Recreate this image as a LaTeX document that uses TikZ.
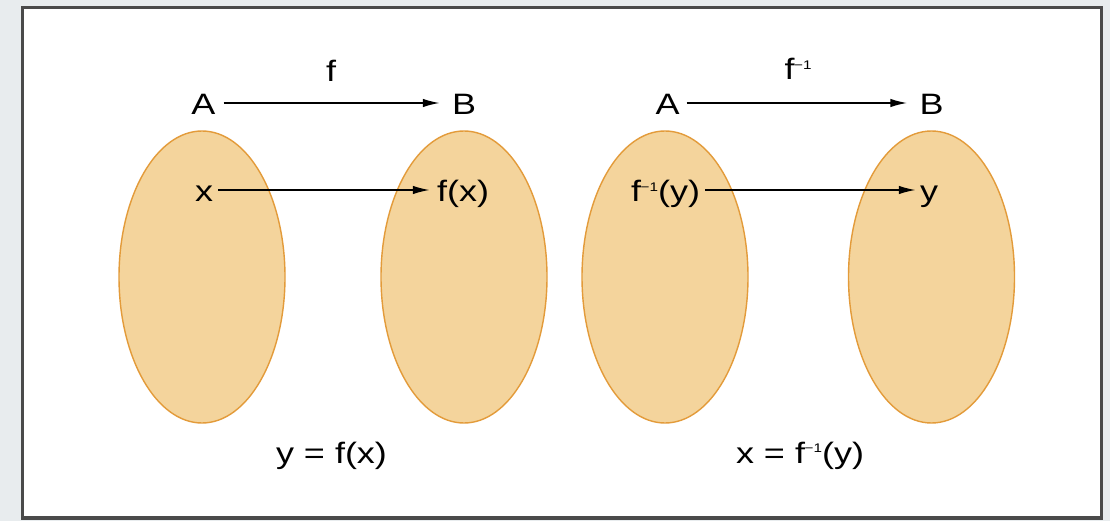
\documentclass[tikz,border=0pt]{standalone}
\usepackage{fontspec}
\setmainfont{Liberation Sans}
\usetikzlibrary{arrows.meta,shapes.geometric}
\definecolor{bg}{HTML}{E8ECEE}
\definecolor{setfill}{HTML}{F4D49C}
\definecolor{setline}{HTML}{E39B3A}
\definecolor{frame}{HTML}{4A4A4A}
\newcommand{\stretchtext}[1]{\scalebox{1.22}[1]{#1}}
\newcommand{\finv}{f\kern-0.3pt\raisebox{10.5pt}{\fontsize{12.5}{12.5}\selectfont −1}}
\tikzset{
  setshape/.style={ellipse, draw=setline, fill=setfill, line width=1.4pt, minimum width=166pt, minimum height=292pt, inner sep=0pt},
  lbl/.style={font=\fontsize{29.5}{34}\selectfont, inner sep=0pt, text height=24pt, text depth=0pt},
  captext/.style={font=\fontsize{29.5}{34}\selectfont, inner sep=0pt, anchor=base},
  maparrow/.style={-{Latex[length=17pt,width=8.5pt]}, line width=1.7pt, black}
}
\begin{document}
\begin{tikzpicture}[x=1pt,y=-1pt]
\useasboundingbox (0,0) rectangle (1110,521);
\fill[bg] (0,0) rectangle (1110,521);
\draw[frame, line width=3.6pt, fill=white] (22.5,7.5) rectangle (1101.5,518);
% sets
\node[setshape] (S1) at (202,277) {};
\node[setshape] (S2) at (464,277) {};
\node[setshape] (S3) at (665,277) {};
\node[setshape] (S4) at (931.5,277) {};
% left diagram
\node[lbl] (A1) at (203.5,103) {\stretchtext{A}};
\node[lbl] (B1) at (464,103) {\stretchtext{B}};
\node[captext] (f1) at (331,82) {\stretchtext{f}};
\node[lbl] (x1) at (204,190) {\stretchtext{x}};
\node[lbl] (fx1) at (463,190) {\stretchtext{f(x)}};
\node[captext] (eq1) at (331.5,463) {\stretchtext{y = f(x)}};
\draw[maparrow, shorten <=8pt, shorten >=12pt] (A1.east) -- (B1.west);
\draw[maparrow, shorten <=5pt, shorten >=7pt] (x1.east) -- (fx1.west);
% right diagram
\node[lbl] (A2) at (667.5,103) {\stretchtext{A}};
\node[lbl] (B2) at (931.5,103) {\stretchtext{B}};
\node[captext] (f2) at (798,80) {\stretchtext{\finv}};
\node[lbl] (fy2) at (665.5,190) {\stretchtext{\finv(y)}};
\node[lbl] (y2) at (929,190) {\stretchtext{y}};
\node[captext] (eq2) at (800,463) {\stretchtext{x = \finv(y)}};
\draw[maparrow, shorten <=7pt, shorten >=12pt] (A2.east) -- (B2.west);
\draw[maparrow, shorten <=5pt, shorten >=4pt] (fy2.east) -- (y2.west);
\end{tikzpicture}
\end{document}
